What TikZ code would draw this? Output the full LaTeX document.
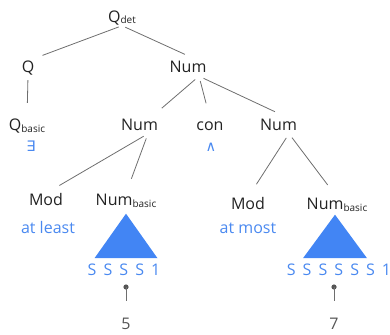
\documentclass[tikz,border=0pt]{standalone}
\usepackage{fontspec}
\setmainfont{Open Sans}
\newfontfamily\leaffont{Open Sans}[WordSpace=1.7]
\newfontfamily\symbfont{DejaVu Sans}
\usetikzlibrary{positioning}
\definecolor{ink}{HTML}{222222}
\definecolor{edge}{HTML}{6E6E6E}
\definecolor{lex}{HTML}{4A89F0}
\definecolor{trifill}{HTML}{4285F4}
\definecolor{val}{HTML}{555555}
\newcommand{\lsub}[1]{\raisebox{-1.5pt}{\fontsize{10}{12}\selectfont #1}}

\begin{document}
\begin{tikzpicture}[x=1pt,y=-1pt]
    \tikzstyle{every node}+=[inner sep=0pt]
    \tikzstyle{cat}=[text=ink, font=\fontsize{16}{19}\selectfont, text height=12pt, text depth=3pt]
    \tikzstyle{word}=[text=lex, font=\fontsize{16}{19}\selectfont, text height=12pt, text depth=3pt]
    \tikzstyle{sym}=[text=lex, font=\symbfont\fontsize{14.5}{17}\selectfont]
    \tikzstyle{leaf}=[text=lex, font=\leaffont\fontsize{16}{19}\selectfont, text height=12pt, text depth=3pt]
    \tikzstyle{value}=[text=val, font=\fontsize{16}{19}\selectfont, text height=12pt, text depth=3pt]
    \tikzstyle{branch}=[draw=edge, line width=0.8pt, shorten <=5pt, shorten >=15.5pt]
    \tikzstyle{tri}=[fill=trifill]
    \useasboundingbox (0,0) rectangle (390,334);

    % categories
    \node [cat] (qdet) at (122,18) {Q\lsub{det}};
    \node [cat] (q) at (28,68.5) {Q};
    \node [cat] (num) at (188,68.5) {Num};
    \node [cat] (qbasic) at (27,126) {Q\lsub{basic}};
    \node [cat] (numl) at (139.5,126) {Num};
    \node [cat] (con) at (210,126) {con};
    \node [cat] (numr) at (278.5,126) {Num};
    \node [cat] (modl) at (46,201) {Mod};
    \node [cat] (nbl) at (126,201) {Num\lsub{basic}};
    \node [cat] (modr) at (248,205) {Mod};
    \node [cat] (nbr) at (337,205) {Num\lsub{basic}};

    % lexical items
    \node [sym] (exists) at (31,146.5) {∃};
    \node [sym] (conj) at (211,147) {∧};
    \node [word] (atleast) at (48,228.5) {at least};
    \node [word] (atmost) at (248,228.5) {at most};
    \node [leaf] (strl) at (124,271) {S S S S 1};
    \node [leaf] (strr) at (339,271) {S S S S S S 1};
    \node [value] (five) at (126,324.5) {5};
    \node [value] (seven) at (334,324.5) {7};

    % branches
    \draw [branch, shorten <=3.5pt] (qdet.south) -- (q.north);
    \draw [branch, shorten <=3.5pt] (qdet.south) -- ([xshift=11pt]num.north);
    \draw [branch, shorten <=4pt] (q.south) -- (qbasic.north);
    \draw [branch] ([xshift=11pt]num.south) -- ([xshift=10.5pt]numl.north);
    \draw [branch] ([xshift=11pt]num.south) -- (con.north);
    \draw [branch] ([xshift=11pt]num.south) -- ([xshift=10.5pt]numr.north);
    \draw [branch] ([xshift=8.5pt]numl.south) -- (modl.north);
    \draw [branch] ([xshift=8.5pt]numl.south) -- (nbl.north);
    \draw [branch] ([xshift=10.5pt]numr.south) -- (modr.north);
    \draw [branch] ([xshift=10.5pt]numr.south) -- (nbr.north);

    % numeral triangles
    \fill [tri] ([yshift=-5pt]nbl.south) -- ++(-31.5,44.5) -- ++(63,0) -- cycle;
    \fill [tri] ([xshift=-2pt,yshift=-2pt]nbr.south) -- ++(-32,43.5) -- ++(64,0) -- cycle;

    % denotations
    \coordinate (dotl) at (126,287);
    \coordinate (dotr) at (334,287);
    \fill [val] (dotl) circle (2.6);
    \fill [val] (dotr) circle (2.6);
    \draw [branch, shorten <=0pt, shorten >=16pt] (dotl) -- (five.north);
    \draw [branch, shorten <=0pt, shorten >=16pt] (dotr) -- (seven.north);
\end{tikzpicture}
\end{document}
